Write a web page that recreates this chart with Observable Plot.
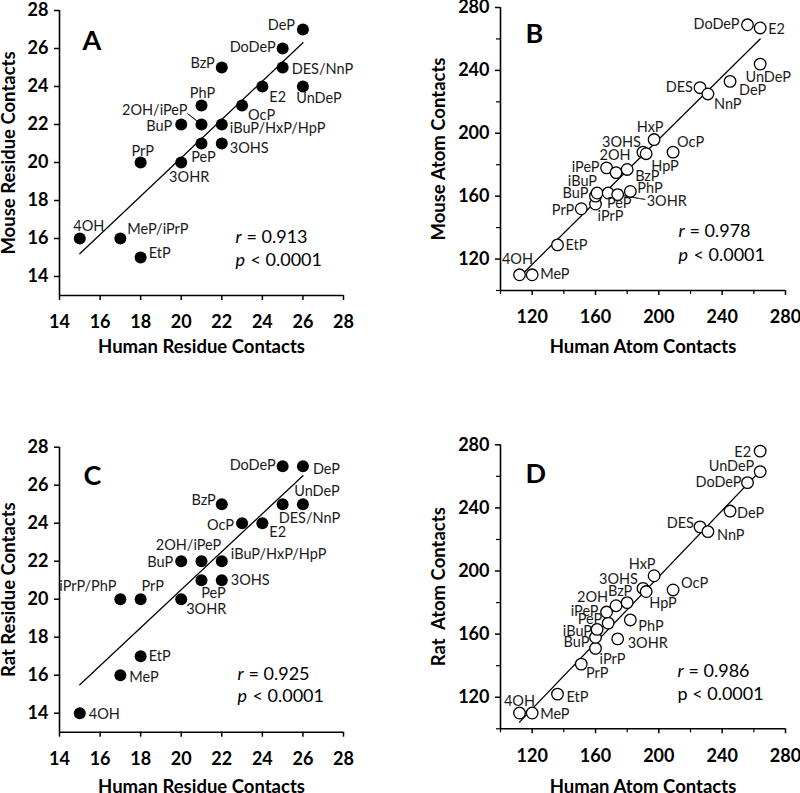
<!DOCTYPE html>
<html><head><meta charset="utf-8">
<script src="https://cdn.jsdelivr.net/npm/d3@7"></script>
<script src="https://cdn.jsdelivr.net/npm/@observablehq/plot@0.6"></script>
<style>
html,body{margin:0;padding:0;background:#fff;}
#fig{position:relative;width:800px;height:793px;overflow:hidden;font-family:Lato,sans-serif;background:#fff;}
.panel{position:absolute;}
</style></head><body><div id="fig"></div>
<script>
// ---------- data ----------
const residueTicks = [14, 16, 18, 20, 22, 24, 26, 28];
const atomTicks = [120, 160, 200, 240, 280];
const atomMinorTicks = [100, 140, 180, 220, 260];
const residueDomainX = [14, 28];
const residueDomainY = [13, 28];
const atomDomain = [100, 280];

// Panel A: mouse vs human residue contacts
const namesA = ["4OH", "MeP/iPrP", "EtP", "PrP", "3OHR", "BuP", "PeP", "2OH/iPeP", "PhP", "BzP", "iBuP/HxP/HpP", "3OHS", "OcP", "E2", "DES/NnP", "DoDeP", "DeP", "UnDeP"];
const humanResA = [15, 17, 18, 18, 20, 20, 21, 21, 21, 22, 22, 22, 23, 24, 25, 25, 26, 26];
const mouseResA = [16, 16, 15, 20, 20, 22, 21, 22, 23, 25, 22, 21, 23, 24, 25, 26, 27, 24];

// Panel C: rat vs human residue contacts
const namesC = ["4OH", "MeP", "EtP", "iPrP/PhP", "PrP", "3OHR", "PeP", "3OHS", "BuP", "2OH/iPeP", "iBuP/HxP/HpP", "OcP", "E2", "BzP", "DES/NnP", "UnDeP", "DoDeP", "DeP"];
const humanResC = [15, 17, 18, 17, 18, 20, 21, 22, 20, 21, 22, 23, 24, 22, 25, 26, 25, 26];
const ratResC = [14, 16, 17, 20, 20, 20, 21, 21, 22, 22, 22, 24, 24, 25, 25, 25, 27, 27];

// Panels B and D: atom contacts
const namesAtom = ["4OH", "MeP", "EtP", "PrP", "iPrP", "BuP", "iBuP", "PeP", "iPeP", "2OH", "BzP", "3OHR", "PhP", "3OHS", "HpP", "HxP", "OcP", "DES", "NnP", "DeP", "DoDeP", "UnDeP", "E2"];
const humanAtom = [112, 120, 136, 151, 160, 160, 161, 168, 167, 173, 180, 174, 182, 190, 192, 197, 209, 226, 231, 245, 256, 264, 264];
const mouseAtom = [110, 110, 129, 152, 155, 160, 162, 162, 178, 175, 177, 161, 163, 188, 187, 196, 188, 229, 225, 233, 269, 244, 267];
const ratAtom   = [110, 110, 122, 141, 151, 158, 163, 167, 174, 178, 180, 157, 169, 189, 187, 197, 188, 228, 225, 238, 256, 263, 276];

// fitted lines (end points)
const fitAx = [15, 26], fitAy = [15.2, 26.3];
const fitBx = [112, 264], fitBy = [108.6, 260];
const fitCx = [15, 26], fitCy = [15.5, 26.5];
const fitDx = [112, 264], fitDy = [104.2, 263.5];

// statistics
const rA = "0.913", rB = "0.978", rC = "0.925", rD = "0.986";
const pText = "0.0001";

// ---------- label placement (anchor, dx, dy in px) ----------
const placeA = {
  "DeP": ["end", -8, -4], "DoDeP": ["end", -7, -1], "BzP": ["end", -7, -4],
  "DES/NnP": ["start", 9, 2], "E2": ["start", 7, 11], "UnDeP": ["middle", 16, 12],
  "PhP": ["middle", 1, -12], "OcP": ["start", 6, 10], "2OH/iPeP": ["end", -14, -14],
  "BuP": ["end", -9, 2], "iBuP/HxP/HpP": ["start", 8, 4], "PeP": ["middle", 2, 14],
  "3OHS": ["start", 8, 5], "PrP": ["middle", 2, -11], "3OHR": ["middle", 8, 15],
  "4OH": ["middle", 9, -12], "MeP/iPrP": ["start", 7, -9], "EtP": ["start", 8, -4]
};
const leadersA = [{name: "2OH/iPeP", length: 18, rotate: -52}];
const placeC = {
  "DoDeP": ["end", -7, -1], "DeP": ["start", 10, 3], "UnDeP": ["middle", 14, -13],
  "DES/NnP": ["start", -4, 14], "BzP": ["end", -6, -4], "OcP": ["end", -8, 2],
  "E2": ["start", 7, 9], "2OH/iPeP": ["middle", -13, -16], "BuP": ["end", -8, 1],
  "iBuP/HxP/HpP": ["start", 9, -7], "PeP": ["middle", 12, 13], "3OHS": ["start", 9, 0],
  "iPrP/PhP": ["end", -4, -13], "PrP": ["middle", 12, -13], "3OHR": ["start", 5, 10],
  "EtP": ["start", 8, 0], "MeP": ["start", 9, 2], "4OH": ["start", 9, 1]
};
const placeB = {
  "DoDeP": ["end", -8, 0], "E2": ["start", 8, 1], "UnDeP": ["middle", 8, 13],
  "DeP": ["start", 9, 9], "DES": ["end", -7, 0], "NnP": ["start", 6, 10],
  "HxP": ["middle", -4, -12], "3OHS": ["end", -2, -10], "OcP": ["start", 4, -10],
  "HpP": ["start", 5, 13], "2OH": ["middle", -1, -17], "iPeP": ["end", -7, -1],
  "BzP": ["start", 8, 7], "iBuP": ["end", 0, -12], "BuP": ["end", -7, -3],
  "PrP": ["end", -7, 2], "iPrP": ["middle", 15, 12], "PeP": ["middle", 11, 10],
  "3OHR": ["start", 29, 7], "PhP": ["start", 7, -3], "EtP": ["start", 8, 0],
  "4OH": ["middle", -2, -15], "MeP": ["start", 8, 0]
};
const leadersB = [{name: "3OHR", length: 28, rotate: 100}];
const placeD = {
  "E2": ["end", -9, 1], "UnDeP": ["end", -6, -5], "DoDeP": ["end", -6, 0],
  "DeP": ["start", 7, 2], "DES": ["end", -6, -3], "NnP": ["start", 9, 4],
  "HxP": ["middle", -12, -11], "3OHS": ["end", -5, -9], "OcP": ["start", 8, -7],
  "HpP": ["start", 3, 12], "BzP": ["middle", -7, -11], "2OH": ["end", -8, -8],
  "iPeP": ["end", -8, -1], "PeP": ["end", -6, -4], "PhP": ["start", 8, 6],
  "iBuP": ["end", -5, 2], "BuP": ["end", -6, 5], "3OHR": ["start", 10, 4],
  "iPrP": ["middle", 17, 11], "PrP": ["middle", 16, 9], "EtP": ["start", 9, 3],
  "4OH": ["middle", 0, -12], "MeP": ["start", 8, 1]
};

// ---------- drawing ----------
const FONT = "Lato, 'Open Sans', sans-serif";

function panel(cfg) {
  const data = cfg.names.map((n, i) => ({name: n, x: cfg.xs[i], y: cfg.ys[i]}));
  const fit = cfg.fitX.map((x, i) => ({x, y: cfg.fitY[i]}));
  const marks = [];
  marks.push(Plot.ruleX([cfg.xDomain[0]], {stroke: "#000", strokeWidth: 1.6}));
  marks.push(Plot.ruleY([cfg.yDomain[0]], {stroke: "#000", strokeWidth: 1.6}));
  if (cfg.minor) {
    marks.push(Plot.axisX({ticks: cfg.minor, tickSize: 4, tickFormat: () => "", label: null, strokeWidth: 1.2}));
    marks.push(Plot.axisY({ticks: cfg.minor, tickSize: 4, tickFormat: () => "", label: null, strokeWidth: 1.2}));
  }
  marks.push(Plot.axisX({ticks: cfg.xTicks, tickSize: 5, tickPadding: 15, tickFormat: d => String(d), fontSize: 18, fontWeight: "bold", label: null, strokeWidth: 1.5}));
  marks.push(Plot.axisY({ticks: cfg.yTicks, tickSize: 5, tickPadding: 6, tickFormat: d => String(d), fontSize: 18, fontWeight: "bold", label: null, strokeWidth: 1.5}));
  marks.push(Plot.line(fit, {x: "x", y: "y", stroke: "#000", strokeWidth: 1.3}));
  for (const L of (cfg.leaders || [])) {
    const d = data.find(e => e.name === L.name);
    marks.push(Plot.vector([d], {x: "x", y: "y", length: L.length, rotate: L.rotate, anchor: "start", shape: "spike", r: 0.3, stroke: "#333", fill: "#333", strokeWidth: 0.8}));
  }
  marks.push(Plot.dot(data, cfg.open
    ? {x: "x", y: "y", r: 5.8, fill: "#fff", stroke: "#000", strokeWidth: 1.3}
    : {x: "x", y: "y", r: 6, fill: "#000"}));
  for (const d of data) {
    const p = cfg.place[d.name];
    marks.push(Plot.text([d], {x: "x", y: "y", text: "name", textAnchor: p[0], dx: p[1], dy: p[2], fontSize: 14.5, fill: "#1a1a1a", lineAnchor: "middle"}));
  }
  const g = cfg.geom;
  marks.push(Plot.text([cfg.letter], {frameAnchor: "top-left", textAnchor: "start", lineAnchor: "middle", dx: g.letterDx, dy: g.letterDy, fontSize: 27, fontWeight: "bold"}));
  if (cfg.pItalic) {
    marks.push(Plot.text(["r"], {frameAnchor: "top-left", textAnchor: "start", lineAnchor: "middle", dx: g.statDx, dy: g.statDy1, fontSize: 18, fontStyle: "italic"}));
    marks.push(Plot.text(["= " + cfg.r], {frameAnchor: "top-left", textAnchor: "start", lineAnchor: "middle", dx: g.statDx + 11, dy: g.statDy1, fontSize: 18}));
    marks.push(Plot.text(["p"], {frameAnchor: "top-left", textAnchor: "start", lineAnchor: "middle", dx: g.statDx, dy: g.statDy2, fontSize: 18, fontStyle: "italic"}));
    marks.push(Plot.text(["< " + pText], {frameAnchor: "top-left", textAnchor: "start", lineAnchor: "middle", dx: g.statDx + 15, dy: g.statDy2, fontSize: 18}));
  } else {
    marks.push(Plot.text(["r"], {frameAnchor: "top-left", textAnchor: "start", lineAnchor: "middle", dx: g.statDx, dy: g.statDy1, fontSize: 18, fontStyle: "italic"}));
    marks.push(Plot.text(["= " + cfg.r], {frameAnchor: "top-left", textAnchor: "start", lineAnchor: "middle", dx: g.statDx + 11, dy: g.statDy1, fontSize: 18}));
    marks.push(Plot.text(["p < " + pText], {frameAnchor: "top-left", textAnchor: "start", lineAnchor: "middle", dx: g.statDx, dy: g.statDy2, fontSize: 18}));
  }
  marks.push(Plot.text([cfg.xTitle], {frameAnchor: "bottom", textAnchor: "middle", lineAnchor: "middle", dy: g.xTitleDy, fontSize: 18.5, fontWeight: "bold"}));
  marks.push(Plot.text([cfg.yTitle], {frameAnchor: "left", textAnchor: "middle", lineAnchor: "middle", rotate: -90, dx: g.yTitleDx, fontSize: 18.5, fontWeight: "bold"}));

  return Plot.plot({
    width: 400, height: cfg.height,
    marginLeft: cfg.m[0], marginRight: cfg.m[1], marginTop: cfg.m[2], marginBottom: cfg.m[3],
    x: {domain: cfg.xDomain},
    y: {domain: cfg.yDomain},
    style: {fontFamily: FONT, background: "#fff", color: "#000", overflow: "visible"},
    marks
  });
}

const panels = [
  {left: 0, top: 0, cfg: {names: namesA, xs: humanResA, ys: mouseResA, open: false,
    xDomain: residueDomainX, yDomain: residueDomainY, xTicks: residueTicks, yTicks: residueTicks,
    fitX: fitAx, fitY: fitAy, place: placeA, leaders: leadersA, letter: "A", r: rA, pItalic: true,
    xTitle: "Human Residue Contacts", yTitle: "Mouse Residue Contacts", height: 400,
    m: [59, 57, 10, 105],
    geom: {letterDx: 23, letterDy: 31, statDx: 176, statDy1: 227, statDy2: 250, xTitleDy: 52, yTitleDx: -50}}},
  {left: 400, top: 0, cfg: {names: namesAtom, xs: humanAtom, ys: mouseAtom, open: true,
    xDomain: atomDomain, yDomain: atomDomain, xTicks: atomTicks, yTicks: atomTicks, minor: atomMinorTicks,
    fitX: fitBx, fitY: fitBy, place: placeB, leaders: leadersB, letter: "B", r: rB, pItalic: true,
    xTitle: "Human Atom Contacts", yTitle: "Mouse Atom Contacts", height: 400,
    m: [100, 15, 7, 110],
    geom: {letterDx: 25, letterDy: 27, statDx: 178, statDy1: 224, statDy2: 248, xTitleDy: 57, yTitleDx: -61}}},
  {left: 0, top: 400, cfg: {names: namesC, xs: humanResC, ys: ratResC, open: false,
    xDomain: residueDomainX, yDomain: residueDomainY, xTicks: residueTicks, yTicks: residueTicks,
    fitX: fitCx, fitY: fitCy, place: placeC, leaders: [], letter: "C", r: rC, pItalic: true,
    xTitle: "Human Residue Contacts", yTitle: "Rat Residue Contacts", height: 393,
    m: [59, 57, 46.7, 61.3],
    geom: {letterDx: 24, letterDy: 29, statDx: 178, statDy1: 227, statDy2: 249, xTitleDy: 55, yTitleDx: -50}}},
  {left: 400, top: 400, cfg: {names: namesAtom, xs: humanAtom, ys: ratAtom, open: true,
    xDomain: atomDomain, yDomain: atomDomain, xTicks: atomTicks, yTicks: atomTicks, minor: atomMinorTicks,
    fitX: fitDx, fitY: fitDy, place: placeD, leaders: [], letter: "D", r: rD, pItalic: false,
    xTitle: "Human Atom Contacts", yTitle: "Rat  Atom Contacts", height: 393,
    m: [100, 15, 44.3, 64.7],
    geom: {letterDx: 25, letterDy: 30, statDx: 177, statDy1: 226, statDy2: 249, xTitleDy: 58, yTitleDx: -61}}}
];

const fig = document.getElementById("fig");
for (const p of panels) {
  const div = document.createElement("div");
  div.className = "panel";
  div.style.left = p.left + "px";
  div.style.top = p.top + "px";
  div.appendChild(panel(p.cfg));
  fig.appendChild(div);
}
</script></body></html>
